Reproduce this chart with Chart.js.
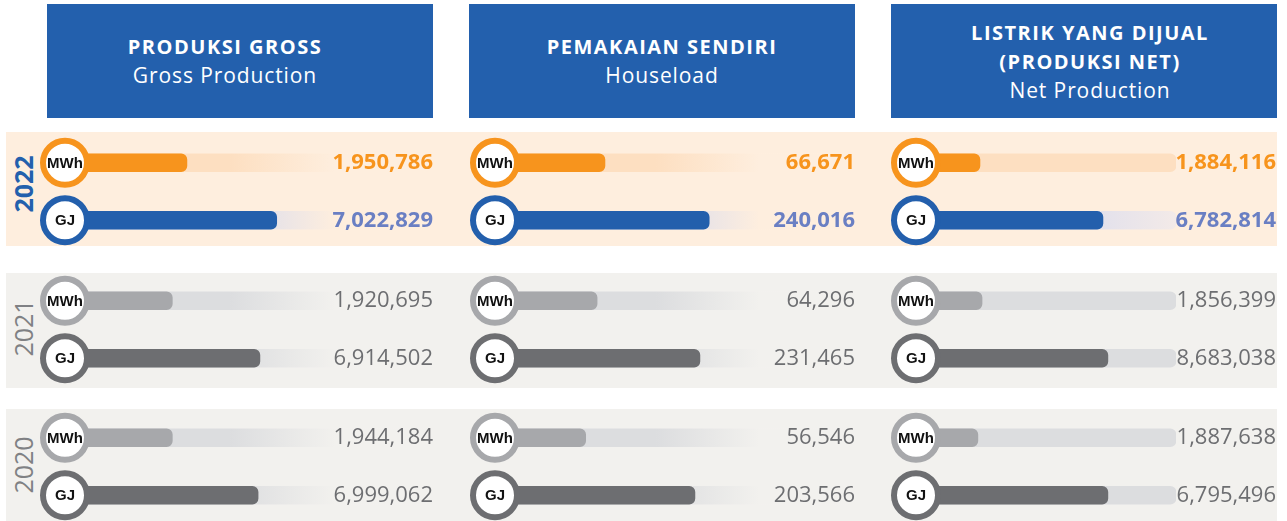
<!DOCTYPE html>
<html><head><meta charset="utf-8">
<script src="https://cdn.jsdelivr.net/npm/chart.js@4.4.1/dist/chart.umd.min.js"></script>
<style>
html,body{margin:0;padding:0;background:#fff;width:1287px;height:521px;overflow:hidden;font-family:'Open Sans',sans-serif;}
.hdr{position:absolute;top:4px;height:114px;width:386px;background:#2360AD;color:#fff;display:flex;flex-direction:column;justify-content:center;align-items:center;text-align:center;box-sizing:border-box;}
.hdr .t{font-weight:700;font-size:20px;line-height:29px;letter-spacing:1.5px;}
.hdr .s{font-weight:400;font-size:21px;line-height:29px;letter-spacing:0.9px;}
.band{position:absolute;left:6px;width:1271px;}
.year{position:absolute;left:23px;transform:translate(-50%,-50%) rotate(-90deg);white-space:nowrap;line-height:1;}
canvas{position:absolute;}
</style>
</head><body>
<div id="root"></div>
<script>
// ---- data ----
const years = ['2022', '2021', '2020'];
const units = ['MWh', 'GJ'];
const titlesId = ['PRODUKSI GROSS', 'PEMAKAIAN SENDIRI', 'LISTRIK YANG DIJUAL\n(PRODUKSI NET)'];
const titlesEn = ['Gross Production', 'Houseload', 'Net Production'];

const grossMWh = [1950786, 1920695, 1944184];
const grossGJ  = [7022829, 6914502, 6999062];
const houseMWh = [66671, 64296, 56546];
const houseGJ  = [240016, 231465, 203566];
const netMWh   = [1884116, 1856399, 1887638];
const netGJ    = [6782814, 8683038, 6795496];

// bar fill length, % of the bar track
const grossMWhBar = [33.4, 29.4, 29.4];
const grossGJBar  = [58.0, 53.4, 52.9];
const houseMWhBar = [30.8, 28.6, 25.4];
const houseGJBar  = [60.0, 57.4, 56.0];
const netMWhBar   = [24.6, 25.4, 23.8];
const netGJBar    = [71.9, 73.8, 73.8];
const trackFull = 100;

// ---- layout / style ----
const colValues = [[grossMWh, grossGJ], [houseMWh, houseGJ], [netMWh, netGJ]];
const colBars = [[grossMWhBar, grossGJBar], [houseMWhBar, houseGJBar], [netMWhBar, netGJBar]];
const hdrLeft = [47, 469, 891];
const hdrPad = ['0 30px 0 0', '0', '0 0 0 12px'];
const colCenter = [65, 495, 916];
const trackEnd = [430, 852, 1176];
const colRight = [433, 855, 1276];
const canvasLeft = [35, 465, 886];
const canvasRight = [440, 862, 1282];
const rowTop = [134, 272, 409];
const rowH = 115;
const bandTop = [132, 273, 409];
const bandH = [114, 115, 112];
const yearMid = [184, 328, 465];
const bandCol = ['#FEEEDE', '#F2F1EE', '#F2F1EE'];

const fillCol = [['#F7941D', '#235FAC'], ['#A7A8AB', '#6D6E71'], ['#A7A8AB', '#6D6E71']];
const trackCol = [['#FDDFC1', '#D8DBEE'], ['#DCDDDF', '#DCDDDF'], ['#DCDDDF', '#DCDDDF']];
const valCol = [['#F7941D', '#6A7FC3'], ['#6D6E71', '#6D6E71'], ['#6D6E71', '#6D6E71']];

const root = document.getElementById('root');
// headers
for (let c = 0; c < 3; c++) {
  const d = document.createElement('div');
  d.className = 'hdr';
  d.style.left = hdrLeft[c] + 'px';
  d.style.padding = hdrPad[c];
  titlesId[c].split('\n').forEach(line => {
    const t = document.createElement('div'); t.className = 't'; t.textContent = line; d.appendChild(t);
  });
  const s = document.createElement('div'); s.className = 's'; s.textContent = titlesEn[c]; d.appendChild(s);
  root.appendChild(d);
}
// bands + years
for (let r = 0; r < 3; r++) {
  const b = document.createElement('div');
  b.className = 'band';
  b.style.top = bandTop[r] + 'px'; b.style.height = bandH[r] + 'px'; b.style.background = bandCol[r];
  root.appendChild(b);
  const y = document.createElement('div');
  y.className = 'year';
  y.textContent = years[r];
  y.style.top = yearMid[r] + 'px';
  if (r === 0) { y.style.color = '#2360AD'; y.style.fontWeight = '700'; y.style.fontSize = '25px'; }
  else { y.style.color = '#808184'; y.style.fontWeight = '400'; y.style.fontSize = '25px'; }
  root.appendChild(y);
}

const decor = {
  id: 'decor',
  afterDatasetsDraw(chart) {
    const o = chart.options.plugins.decor;
    const ctx = chart.ctx;
    const xs = chart.scales.x, ys = chart.scales.y;
    ctx.save();
    units.forEach((u, i) => {
      const cy = ys.getPixelForValue(i);
      const cx = xs.getPixelForValue(0);
      ctx.beginPath();
      ctx.arc(cx, cy, 22, 0, Math.PI * 2);
      ctx.fillStyle = '#fff'; ctx.fill();
      ctx.lineWidth = 6; ctx.strokeStyle = o.ring[i]; ctx.stroke();
      ctx.fillStyle = '#111';
      ctx.font = '700 15px "Liberation Sans", Arial, sans-serif';
      ctx.textAlign = 'center'; ctx.textBaseline = 'middle';
      ctx.fillText(u, cx, cy + 1);
      ctx.fillStyle = o.valCol[i];
      ctx.font = (o.bold ? '700' : '400') + ' 22px "Open Sans", sans-serif';
      ctx.textAlign = 'right';
      ctx.fillText(o.values[i].toLocaleString('en-US'), o.textX, cy);
    });
    ctx.restore();
  }
};

function trackBg(r, c) {
  return (context) => {
    const i = context.dataIndex;
    const base = trackCol[r][i];
    const ca = context.chart.chartArea;
    if (!ca) return base;
    const fade = c < 2 || (r === 0 && i === 1);
    if (!fade) return base;
    const g = context.chart.ctx.createLinearGradient(ca.left, 0, ca.right, 0);
    g.addColorStop(0, base);
    if (c < 2) {
      g.addColorStop(0.45, base);
      g.addColorStop(0.74, bandCol[r]);
      g.addColorStop(1, bandCol[r]);
    } else {
      g.addColorStop(0.5, base);
      g.addColorStop(1, '#F3EAE8');
    }
    return g;
  };
}

for (let r = 0; r < 3; r++) {
  for (let c = 0; c < 3; c++) {
    const cv = document.createElement('canvas');
    const w = canvasRight[c] - canvasLeft[c];
    cv.width = w; cv.height = rowH;
    cv.style.left = canvasLeft[c] + 'px'; cv.style.top = rowTop[r] + 'px';
    cv.style.width = w + 'px'; cv.style.height = rowH + 'px';
    root.appendChild(cv);
    const vals = [colValues[c][0][r], colValues[c][1][r]];
    const bars = [colBars[c][0][r], colBars[c][1][r]];
    new Chart(cv, {
      type: 'bar',
      data: {
        labels: units,
        datasets: [
          { data: [trackFull, trackFull], backgroundColor: trackBg(r, c), order: 2, grouped: false,
            barThickness: 18, borderRadius: 6, borderSkipped: false },
          { data: bars, backgroundColor: fillCol[r], order: 1, grouped: false,
            barThickness: 18, borderRadius: 6, borderSkipped: false }
        ]
      },
      options: {
        indexAxis: 'y', responsive: false, animation: false, events: [], devicePixelRatio: 1,
        layout: { padding: { left: colCenter[c] - canvasLeft[c], right: canvasRight[c] - trackEnd[c], top: 0, bottom: 0 } },
        scales: { x: { display: false, min: 0, max: trackFull }, y: { display: false } },
        plugins: {
          legend: { display: false }, tooltip: { enabled: false },
          decor: { values: vals, ring: fillCol[r], valCol: valCol[r], bold: r === 0, textX: colRight[c] - canvasLeft[c] }
        }
      },
      plugins: [decor]
    });
  }
}
</script>
</body></html>
